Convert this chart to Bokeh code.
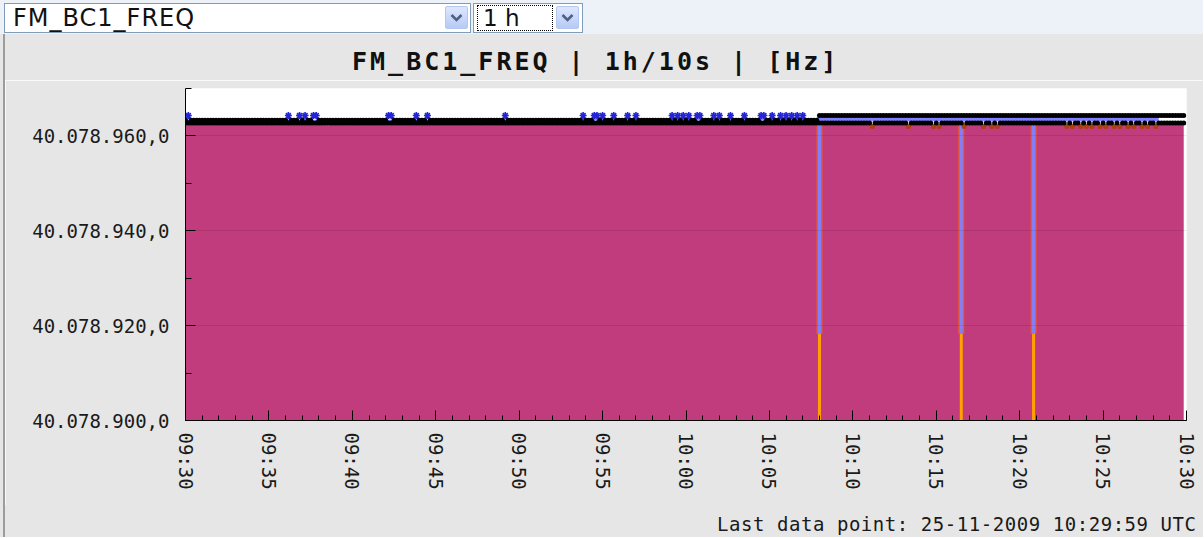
import math
import pandas as pd
from bokeh.plotting import figure
from bokeh.models import (Range1d, FixedTicker, DatetimeTickFormatter, CustomJSTickFormatter,
                          ColumnDataSource, CDSView, BooleanFilter, Div)
from bokeh.layouts import column, row
from bokeh.embed import file_html
from bokeh.resources import INLINE

# ---------------- data ----------------
CHANNEL = "FM_BC1_FREQ"
SPAN_LABEL = "1 h"
TITLE = "FM_BC1_FREQ | 1h/10s | [Hz]"
LAST_POINT = "Last data point: 25-11-2009 10:29:59 UTC"

START = "2009-11-25 09:30:00"
END = "2009-11-25 10:30:00"
N_SAMPLES = 360          # 1 h at 10 s

X_TICK_LABELS = ["09:30", "09:35", "09:40", "09:45", "09:50", "09:55", "10:00",
                 "10:05", "10:10", "10:15", "10:20", "10:25", "10:30"]
Y_TICKS = [40078900.0, 40078920.0, 40078940.0, 40078960.0]
Y_MINOR_TICKS = [40078900.0, 40078910.0, 40078920.0, 40078930.0, 40078940.0,
                 40078950.0, 40078960.0, 40078970.0]
Y_MIN, Y_MAX = 40078900.0, 40078970.0

# one character per 10 s sample, one row per 5 minutes
MAX_CODES = [
    "010000000000000000000000000000",
    "000000010001010011000000000000",
    "000000000000011000000001000100",
    "000000000000000000000000010000",
    "000000000000000000000001000110",
    "100010000100100000000000010101",
    "010011000010100010000100000110",
    "010010101010100000111111111111",
    "111111111111111111111111111111",
    "111111111111111111111111111111",
    "111111111111111111111111111111",
    "111111111111111111111111111111",
]
MIN_CODES = [
    "111111111111111111111111111111",
    "111111111111111111111111111111",
    "111111111111111111111111111111",
    "111111111111111111111111111111",
    "111111111111111111111111111111",
    "111111111111111111111111111111",
    "111111111111111111111111111111",
    "111111111111111111111111111111",
    "111111121111111111112111111112",
    "121111111121111112112121111111",
    "111111111111111112121121212112",
    "121121211212112121121111111111",
]
AVG_CODES = [
    "000000000000000000000000000000",
    "000000000000000000000000000000",
    "000000000000000000000000000000",
    "000000000000000000000000000000",
    "000000000000000000000001000110",
    "100010000100100000000000010101",
    "010011000010100010000100000110",
    "010010101010100000222222222222",
    "222222222222222222222222222222",
    "222222222222222222222222222222",
    "222222222222222222222222222222",
    "222222222222222222222---------",
]
MAX_LEVEL = {"0": 40078963.3, "1": 40078964.3}
MIN_LEVEL = {"1": 40078962.7, "2": 40078962.0}
AVG_LEVEL = {"0": 40078963.0, "1": 40078963.7, "2": 40078963.5, "-": float("nan")}

# short drop-outs
DROP_TIMES = ["2009-11-25 10:08:00", "2009-11-25 10:16:30", "2009-11-25 10:20:50"]
DROP_FROM = [40078962.7, 40078962.7, 40078962.7]
DROP_AVG = [40078918.3, 40078918.3, 40078918.3]
DROP_MIN = [40078890.0, 40078890.0, 40078890.0]

# ---------------- build ----------------
for rows in (MAX_CODES, MIN_CODES, AVG_CODES):
    for r in rows:
        if len(r) != 30:
            raise ValueError("bad row length %d: %s" % (len(r), r))

def decode(rows, levels):
    return [levels[c] for r in rows for c in r]

max_flat = "".join(MAX_CODES)
min_flat = "".join(MIN_CODES)
avg_flat = "".join(AVG_CODES)
times = pd.date_range(START, periods=N_SAMPLES, freq="10s")
src = ColumnDataSource(dict(
    t=times,
    vmax=decode(MAX_CODES, MAX_LEVEL),
    vmin=decode(MIN_CODES, MIN_LEVEL),
    vavg=decode(AVG_CODES, AVG_LEVEL),
))
# maxima that stand alone above the band are drawn as blue stars
lone = [m == "1" and a in "01" for m, a in zip(max_flat, avg_flat)]
view_lone = CDSView(filter=BooleanFilter(lone))
view_band = CDSView(filter=BooleanFilter([not b for b in lone]))
view_minrow = CDSView(filter=BooleanFilter([c == "1" for c in min_flat]))
view_mindip = CDSView(filter=BooleanFilter([c == "2" for c in min_flat]))

drops = ColumnDataSource(dict(
    t=pd.to_datetime(DROP_TIMES), top=DROP_FROM, lavg=DROP_AVG, lmin=DROP_MIN))

def ms(ts):
    return pd.Timestamp(ts).value // 10**6

t0, t1 = pd.Timestamp(START), pd.Timestamp(END)

FILL = "#c03c7c"
PANEL = "#e6e6e6"
COL_W = 1198
p = figure(width=COL_W, height=425, x_axis_type="datetime",
           x_range=Range1d(t0, t1), y_range=Range1d(Y_MIN, Y_MAX),
           output_backend="svg", toolbar_location=None,
           min_border_left=180, min_border_right=17, min_border_top=8, min_border_bottom=85,
           background_fill_color="white", border_fill_color=PANEL,
           outline_line_color=None, margin=0)

# area + series
p.varea(x="t", y1=Y_MIN, y2="vmin", source=src, fill_color=FILL)
p.segment(x0="t", y0="top", x1="t", y1="lmin", source=drops, line_color="#ffa200", line_width=3)
p.segment(x0="t", y0="top", x1="t", y1="lavg", source=drops, line_color="#ee5a26", line_width=6)
p.segment(x0="t", y0="top", x1="t", y1="lavg", source=drops, line_color="#8080ff", line_width=3)
p.line(x="t", y="vmin", source=src, line_color="#d24a14", line_width=2)
p.scatter(x="t", y="vmin", source=src, view=view_mindip, marker="circle", size=5,
          fill_color="#a8400f", line_color=None)
p.line(x="t", y="vavg", source=src, line_color="#8080ff", line_width=4)
p.line(x="t", y="vmax", source=src, line_color="#2a2ae0", line_width=1.4)
p.scatter(x="t", y="vmin", source=src, view=view_minrow, marker="circle", size=5,
          fill_color="black", line_color=None)
p.scatter(x="t", y="vmax", source=src, view=view_band, marker="circle", size=5,
          fill_color="black", line_color=None)
p.scatter(x="t", y="vmax", source=src, view=view_lone, marker="asterisk", size=7,
          line_color="#2424d8", line_width=1.6)

# axes
xt = [ms("2009-11-25 " + lab) for lab in X_TICK_LABELS]
xminor = [ms(t) for t in pd.date_range(START, END, freq="1min")]
p.xaxis.ticker = FixedTicker(ticks=xt, minor_ticks=xminor)
fmt = "%H:%M"
p.xaxis.formatter = DatetimeTickFormatter(seconds=fmt, minsec=fmt, minutes=fmt, hourmin=fmt,
                                          hours=fmt, days=fmt)
p.xaxis.major_label_orientation = -math.pi / 2
p.yaxis.ticker = FixedTicker(ticks=Y_TICKS, minor_ticks=Y_MINOR_TICKS)
p.yaxis.formatter = CustomJSTickFormatter(code=r"""
const s = tick.toFixed(1);
const parts = s.split(".");
return parts[0].replace(/\B(?=(\d{3})+(?!\d))/g, ".") + "," + parts[1];
""")
for ax in (p.xaxis[0], p.yaxis[0]):
    ax.axis_line_color = "black"
    ax.major_tick_line_color = "black"
    ax.minor_tick_line_color = "black"
    ax.major_tick_in = 10
    ax.major_tick_out = 0
    ax.minor_tick_in = 6
    ax.minor_tick_out = 0
    ax.major_label_text_font = "DejaVu Sans Mono"
    ax.major_label_text_font_size = "19px"
    ax.major_label_text_color = "#1a1a1a"
p.xaxis.minor_tick_in = 5
p.xaxis.major_label_standoff = 12
p.yaxis.major_label_standoff = 16

p.xgrid.visible = False
p.ygrid.grid_line_color = "black"
p.ygrid.grid_line_alpha = 0.09
p.ygrid.level = "overlay"

# title row and footer row of the grey panel
title_div = Div(
    text=('<div style="position:relative;width:%dpx;height:46px;background:%s;">'
          '<div style="position:absolute;left:347px;top:15px;line-height:25px;white-space:nowrap;'
          "font-family:'DejaVu Sans Mono';font-size:25px;font-weight:bold;letter-spacing:3px;"
          'color:#111;">%s</div></div>') % (COL_W, PANEL, TITLE),
    width=COL_W, height=46, margin=0)
foot_div = Div(
    text=('<div style="position:relative;width:%dpx;height:32px;background:%s;">'
          '<div style="position:absolute;left:712px;top:10px;line-height:19px;white-space:nowrap;'
          "font-family:'DejaVu Sans Mono';font-size:19px;letter-spacing:0.55px;"
          'color:#1a1a1a;">%s</div></div>') % (COL_W, PANEL, LAST_POINT),
    width=COL_W, height=32, margin=0)

# top selector bar
chev = ('<svg width="13" height="10" style="position:absolute;left:4px;top:6px">'
        '<polyline points="1.5,2 6.5,7 11.5,2" fill="none" stroke="#4d6185" stroke-width="2.6"/></svg>')
btn = ('<div style="position:absolute;left:{l}px;top:6px;width:23px;height:23px;box-sizing:border-box;'
       'border:1px solid #b3c7f3;border-radius:2px;background:linear-gradient(#dde7fe,#b6caf6);">' + chev + '</div>')
bar_html = (
    '<div style="position:relative;width:1203px;height:34px;background:#edf1f8;overflow:hidden;">'
    '<div style="position:absolute;left:4px;top:3px;width:467px;height:30px;box-sizing:border-box;'
    'border:1px solid #7f9db9;background:#ffffff;"></div>'
    '<div style="position:absolute;left:13px;top:3px;height:30px;line-height:30px;letter-spacing:1px;'
    "font-family:'DejaVu Sans';font-size:24px;color:#111;\">" + CHANNEL + '</div>'
    + btn.format(l=445) +
    '<div style="position:absolute;left:473px;top:3px;width:110px;height:30px;box-sizing:border-box;'
    'border:1px solid #7f9db9;background:#ffffff;"></div>'
    '<div style="position:absolute;left:477px;top:5px;width:76px;height:26px;box-sizing:border-box;'
    "border:1px dotted #000;font-family:'DejaVu Sans';font-size:23px;line-height:24px;"
    'padding-left:5px;color:#111;">' + SPAN_LABEL + '</div>'
    + btn.format(l=556) +
    '</div>'
)
bar = Div(text=bar_html, width=1203, height=34, margin=0)
edge = Div(text=('<div style="position:relative;width:5px;height:503px;background:%s;">'
                 '<div style="position:absolute;left:3px;top:0px;width:2px;height:503px;'
                 'background:#9c9c9c;"></div></div>') % PANEL,
           width=5, height=503, margin=0)

layout = column(bar, row(edge, column(title_div, p, foot_div, spacing=0, margin=0),
                         spacing=0, margin=0), spacing=0, margin=0)
open("out.html", "w").write(file_html(layout, INLINE))
